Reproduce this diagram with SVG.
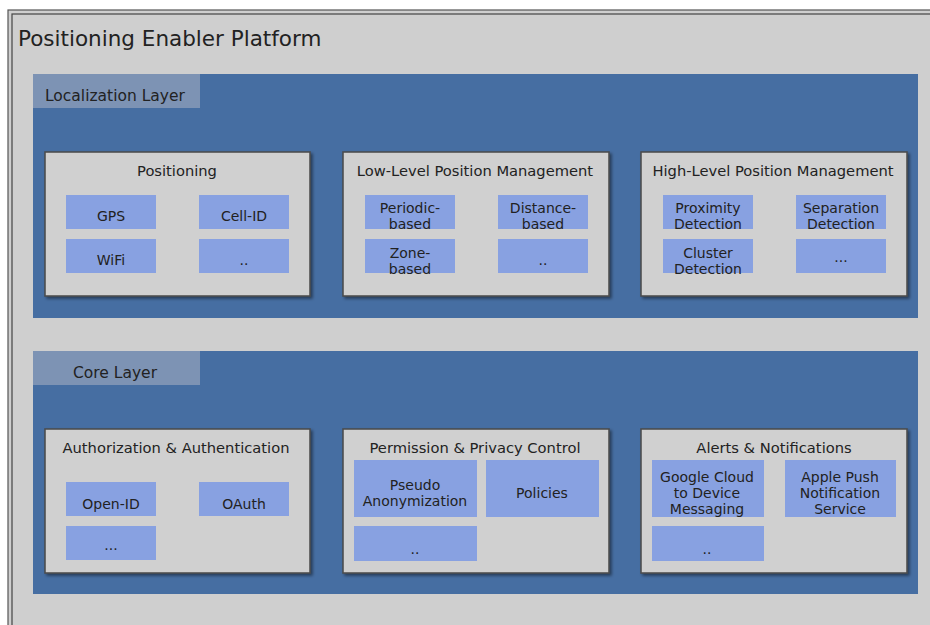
<svg xmlns="http://www.w3.org/2000/svg" width="930" height="625" viewBox="0 0 930 625">
<defs>
<filter id="sh" x="-5%" y="-5%" width="115%" height="120%">
<feDropShadow dx="2" dy="2" stdDeviation="1.5" flood-color="#000" flood-opacity="0.45"/>
</filter>
</defs>
<style>
text{font-family:"DejaVu Sans","Liberation Sans",sans-serif;fill:#222}
.title{font-size:21.5px}
.layer{fill:#466ea2}
.lbl{fill:#7d93b4}
.ltxt{font-size:15.5px}
.panel{fill:#d0d0d0;stroke:#4a4a4a;stroke-width:1.5}
.ptxt{font-size:14.7px;text-anchor:middle}
.box{fill:#88a1e1}
.btxt{font-size:14px;text-anchor:middle}
</style>
<rect x="0" y="0" width="930" height="625" fill="#ffffff"/>
<rect x="8" y="10" width="930" height="620" fill="#cfcfcf" stroke="#555" stroke-width="1.2"/>
<rect x="12" y="14" width="930" height="620" fill="#cfcfcf" stroke="#444" stroke-width="1.2"/>
<text class="title" x="18" y="46">Positioning Enabler Platform</text>

<g id="localization-layer">
<rect class="layer" x="33" y="74" width="885" height="244"/>
<rect class="lbl" x="33" y="74" width="167" height="34"/>
<text class="ltxt" x="45" y="101">Localization Layer</text>
</g>

<g id="core-layer">
<rect class="layer" x="33" y="351" width="885" height="243"/>
<rect class="lbl" x="33" y="351" width="167" height="34"/>
<text class="ltxt" x="73" y="378">Core Layer</text>
</g>

<g id="positioning">
<rect class="panel" filter="url(#sh)" x="45" y="152" width="265" height="144"/>
<text class="ptxt" x="177" y="176">Positioning</text>
<rect class="box" x="66" y="195" width="90" height="34"/>
<text class="btxt" x="111" y="221">GPS</text>
<rect class="box" x="199" y="195" width="90" height="34"/>
<text class="btxt" x="244" y="221">Cell-ID</text>
<rect class="box" x="66" y="239" width="90" height="34"/>
<text class="btxt" x="111" y="265">WiFi</text>
<rect class="box" x="199" y="239" width="90" height="34"/>
<text class="btxt" x="244" y="265">..</text>
</g>

<g id="low-level">
<rect class="panel" filter="url(#sh)" x="343" y="152" width="266" height="144"/>
<text class="ptxt" x="475" y="176">Low-Level Position Management</text>
<rect class="box" x="365" y="195" width="90" height="34"/>
<text class="btxt" x="410" y="213">Periodic-</text>
<text class="btxt" x="410" y="229">based</text>
<rect class="box" x="498" y="195" width="90" height="34"/>
<text class="btxt" x="543" y="213">Distance-</text>
<text class="btxt" x="543" y="229">based</text>
<rect class="box" x="365" y="239" width="90" height="34"/>
<text class="btxt" x="410" y="258">Zone-</text>
<text class="btxt" x="410" y="274">based</text>
<rect class="box" x="498" y="239" width="90" height="34"/>
<text class="btxt" x="543" y="265">..</text>
</g>

<g id="high-level">
<rect class="panel" filter="url(#sh)" x="641" y="152" width="266" height="144"/>
<text class="ptxt" x="773" y="176">High-Level Position Management</text>
<rect class="box" x="663" y="195" width="90" height="34"/>
<text class="btxt" x="708" y="213">Proximity</text>
<text class="btxt" x="708" y="229">Detection</text>
<rect class="box" x="796" y="195" width="90" height="34"/>
<text class="btxt" x="841" y="213">Separation</text>
<text class="btxt" x="841" y="229">Detection</text>
<rect class="box" x="663" y="239" width="90" height="34"/>
<text class="btxt" x="708" y="258">Cluster</text>
<text class="btxt" x="708" y="274">Detection</text>
<rect class="box" x="796" y="239" width="90" height="34"/>
<text class="btxt" x="841" y="262">...</text>
</g>

<g id="auth">
<rect class="panel" filter="url(#sh)" x="45" y="429" width="265" height="144"/>
<text class="ptxt" x="176" y="453">Authorization &amp; Authentication</text>
<rect class="box" x="66" y="482" width="90" height="34"/>
<text class="btxt" x="111" y="509">Open-ID</text>
<rect class="box" x="199" y="482" width="90" height="34"/>
<text class="btxt" x="244" y="509">OAuth</text>
<rect class="box" x="66" y="526" width="90" height="34"/>
<text class="btxt" x="111" y="550">...</text>
</g>

<g id="privacy">
<rect class="panel" filter="url(#sh)" x="343" y="429" width="266" height="144"/>
<text class="ptxt" x="475" y="453">Permission &amp; Privacy Control</text>
<rect class="box" x="354" y="460" width="123" height="57"/>
<text class="btxt" x="415" y="490">Pseudo</text>
<text class="btxt" x="415" y="506">Anonymization</text>
<rect class="box" x="486" y="460" width="113" height="57"/>
<text class="btxt" x="542" y="498">Policies</text>
<rect class="box" x="354" y="526" width="123" height="35"/>
<text class="btxt" x="415" y="554">..</text>
</g>

<g id="alerts">
<rect class="panel" filter="url(#sh)" x="641" y="429" width="266" height="144"/>
<text class="ptxt" x="774" y="453">Alerts &amp; Notifications</text>
<rect class="box" x="652" y="460" width="112" height="57"/>
<text class="btxt" x="707" y="482">Google Cloud</text>
<text class="btxt" x="707" y="498">to Device</text>
<text class="btxt" x="707" y="514">Messaging</text>
<rect class="box" x="785" y="460" width="111" height="57"/>
<text class="btxt" x="840" y="482">Apple Push</text>
<text class="btxt" x="840" y="498">Notification</text>
<text class="btxt" x="840" y="514">Service</text>
<rect class="box" x="652" y="526" width="112" height="35"/>
<text class="btxt" x="707" y="554">..</text>
</g>

<g id="connectors"></g>
</svg>
